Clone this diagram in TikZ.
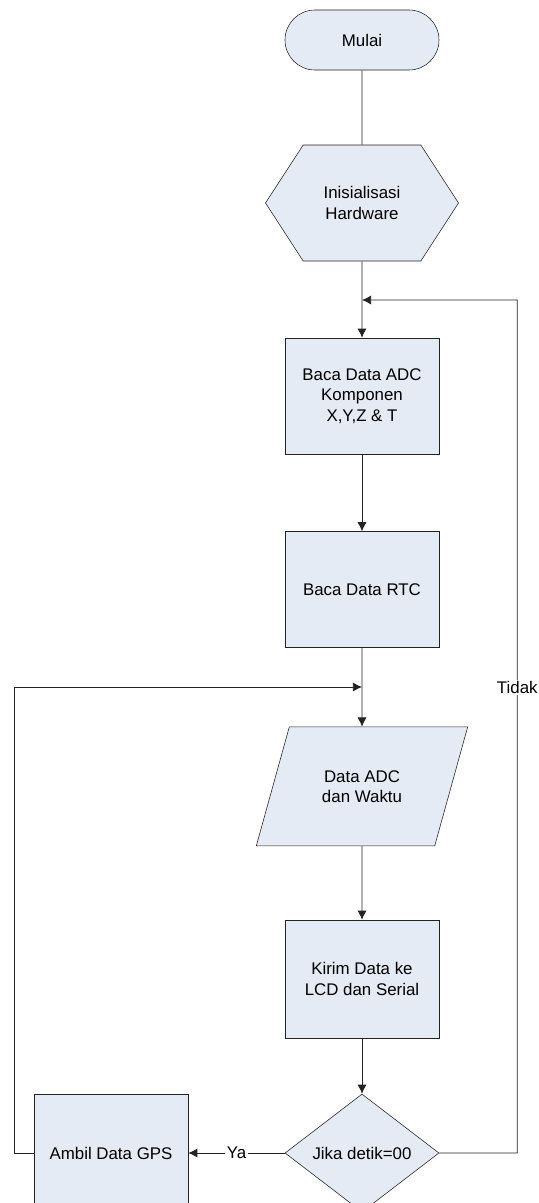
\documentclass[tikz,border=0pt]{standalone}
\usepackage{fontspec}
\setmainfont{Liberation Sans}
\usetikzlibrary{shapes.geometric,shapes.symbols,arrows.meta}
\definecolor{FlowFill}{RGB}{229,235,245}
\definecolor{FlowLine}{RGB}{35,35,35}

\begin{document}
\begin{tikzpicture}[scale=1.0, every node/.style={font=\fontsize{12}{14.4}\selectfont},
  procbox/.style={draw=FlowLine, fill=FlowFill, minimum width=3.85cm, minimum height=2.9cm, align=center, inner sep=2pt},
  flowline/.style={draw=FlowLine, line width=0.6pt},
  flowarrow/.style={flowline, -{Latex[length=6.5pt,width=6.5pt]}}]
\useasboundingbox[fill=white] (0,0) rectangle (13.45,-30.075);

\node[draw=FlowLine, fill=FlowFill, rounded corners=0.75cm, minimum width=3.85cm, minimum height=1.5cm] (mulai) at (9.05,-1.0) {Mulai};
\node[draw=FlowLine, fill=FlowFill, signal, signal to=west and east, signal pointer angle=114, minimum width=4.825cm, minimum height=2.9cm, align=center] (init) at (9.05,-5.075) {Inisialisasi\\Hardware};
\node[procbox] (adc) at (9.05,-9.9) {Baca Data ADC\\Komponen\\X,Y,Z \& T};
\node[procbox] (rtc) at (9.05,-14.74) {Baca Data RTC};
\node[draw=FlowLine, fill=FlowFill, trapezium, trapezium left angle=64, trapezium right angle=116, trapezium stretches=true, minimum width=5.3cm, minimum height=2.975cm, align=center] (data) at (9.05,-19.66) {Data ADC\\dan Waktu};
\node[procbox, minimum height=2.95cm] (kirim) at (9.05,-24.475) {Kirim Data ke\\LCD dan Serial};
\node[draw=FlowLine, fill=FlowFill, diamond, minimum width=3.85cm, minimum height=2.95cm, inner sep=0pt] (jika) at (9.05,-28.825) {Jika detik=00};
\node[procbox, minimum height=2.95cm] (gps) at (2.775,-28.825) {Ambil Data GPS};

% titik pertemuan loop
\coordinate (joinA) at (9.05,-7.5);
\coordinate (joinB) at (9.05,-17.175);

\draw[flowline] (mulai) -- (init);
\draw[flowarrow] (init) -- (adc);
\draw[flowarrow] (adc) -- (rtc);
\draw[flowarrow] (rtc) -- (data);
\draw[flowarrow] (data) -- (kirim);
\draw[flowarrow] (kirim) -- (jika);
\draw[flowarrow] (jika) -- node[fill=white, inner sep=1pt] {Ya} (gps);
\draw[flowarrow] (jika.east) -| node[pos=0.773, fill=white, inner sep=1pt] {Tidak} ++(1.95,21.325) -- (joinA);
\draw[flowarrow] (gps.west) -- ++(-0.475,0) |- (joinB);
\end{tikzpicture}
\end{document}
